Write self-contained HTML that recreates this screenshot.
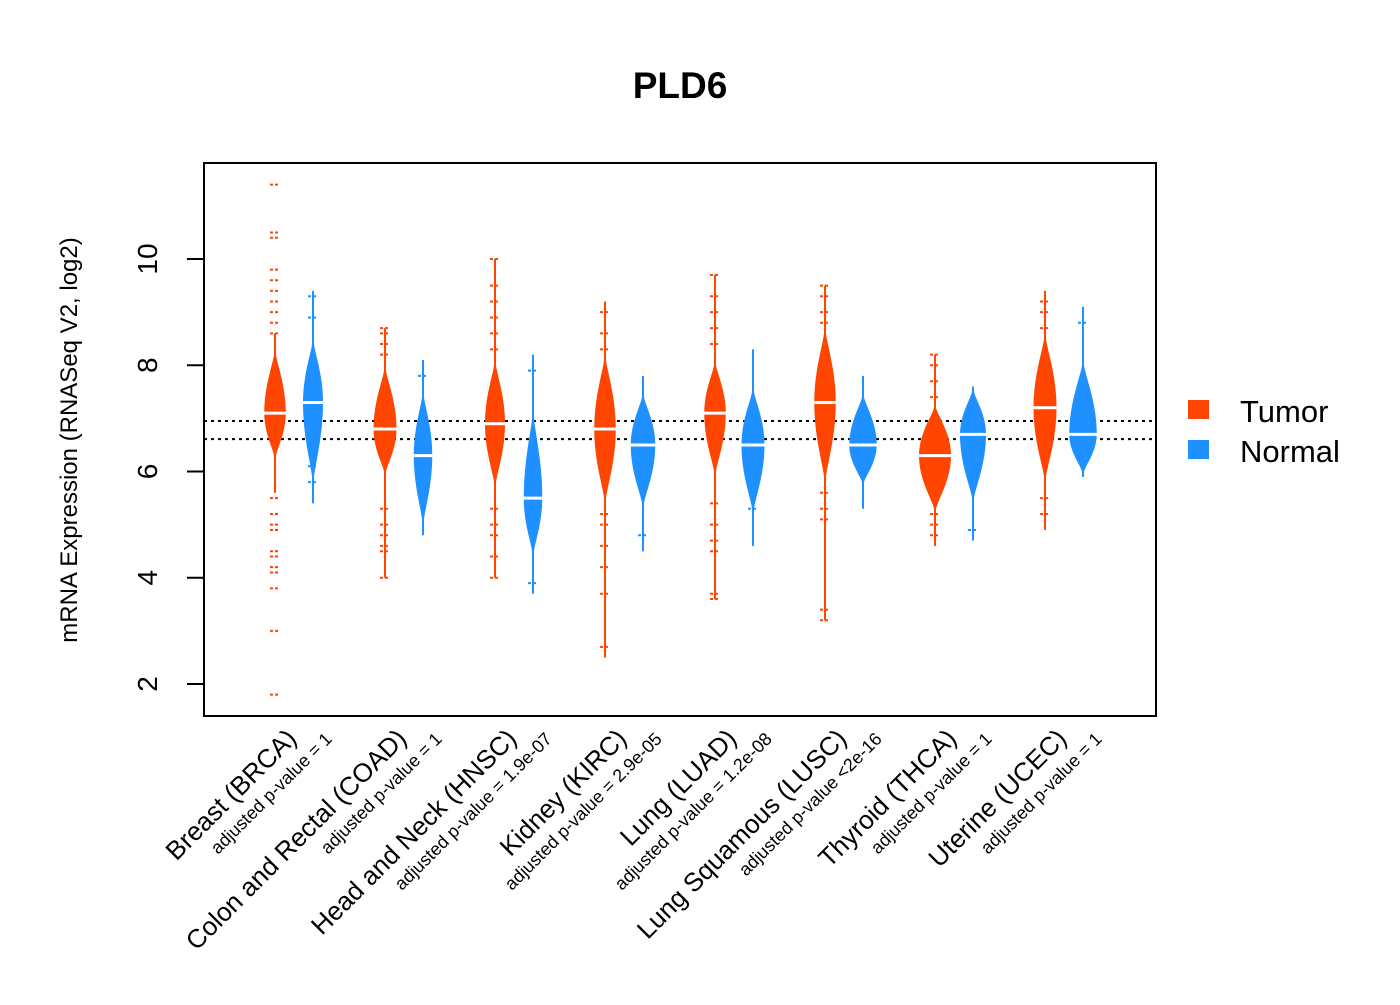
<!DOCTYPE html>
<html><head><meta charset="utf-8"><style>
html,body{margin:0;padding:0;background:#fff;}
svg text{font-family:"Liberation Sans",Arial,sans-serif;}
</style></head><body>
<svg id="chart" width="1400" height="1000" xmlns="http://www.w3.org/2000/svg">
<text x="680" y="98" font-size="37" font-weight="bold" text-anchor="middle">PLD6</text>
<g id="plot"></g>
<rect x="204" y="163" width="952" height="553" fill="none" stroke="#000" stroke-width="2"/>
<text transform="translate(77,440) rotate(-90)" font-size="24" text-anchor="middle">mRNA Expression (RNASeq V2, log2)</text>
<g>
<rect x="1188" y="400" width="21" height="19" fill="#FF4500"/>
<text x="1240" y="422" font-size="31">Tumor</text>
<rect x="1188" y="440" width="21" height="19" fill="#1E90FF"/>
<text x="1240" y="462" font-size="31">Normal</text>
</g>
</svg>
<script>
const categories=["Breast (BRCA)","Colon and Rectal (COAD)","Head and Neck (HNSC)","Kidney (KIRC)","Lung (LUAD)","Lung Squamous (LUSC)","Thyroid (THCA)","Uterine (UCEC)"];
const pvalues=["adjusted p-value = 1","adjusted p-value = 1","adjusted p-value = 1.9e-07","adjusted p-value = 2.9e-05","adjusted p-value = 1.2e-08","adjusted p-value <2e-16","adjusted p-value = 1","adjusted p-value = 1"];
const yTicks=[2,4,6,8,10];
const refLines=[6.95,6.61];
// tumor: whisker low/high, body low/high, median, relative width
const tumorLo=[5.6,4.0,4.0,2.5,3.6,3.2,4.6,4.9];
const tumorHi=[8.6,8.7,10.0,9.2,9.7,9.5,8.2,9.4];
const tumorBodyLo=[6.3,6.0,5.8,5.5,6.0,5.9,5.3,5.9];
const tumorBodyHi=[8.2,7.9,8.0,8.1,8.0,8.6,7.2,8.5];
const tumorMed=[7.1,6.8,6.9,6.8,7.1,7.3,6.3,7.2];
const tumorWidth=[0.65,0.7,0.6,0.65,0.65,0.65,1.0,0.7];
const normalLo=[5.4,4.8,3.7,4.5,4.6,5.3,4.7,5.9];
const normalHi=[9.4,8.1,8.2,7.8,8.3,7.8,7.6,9.1];
const normalBodyLo=[5.9,5.1,4.5,5.4,5.3,5.8,5.5,6.0];
const normalBodyHi=[8.4,7.4,7.0,7.4,7.5,7.4,7.5,8.0];
const normalMed=[7.3,6.3,5.5,6.5,6.5,6.5,6.7,6.7];
const normalWidth=[0.6,0.55,0.55,0.75,0.7,0.85,0.8,0.85];
const tumorOutliers=[
[1.8,3.0,3.8,4.1,4.2,4.4,4.5,4.9,5.0,5.2,5.5,8.6,8.8,9.0,9.2,9.4,9.6,9.8,10.4,10.5,11.4],
[4.0,4.5,4.6,4.8,5.0,5.3,8.2,8.4,8.6,8.7],
[4.0,4.4,4.8,5.0,5.3,8.3,8.6,8.9,9.2,9.5,10.0],
[2.7,3.7,4.2,4.6,5.0,5.2,8.3,8.6,9.0],
[3.6,3.7,4.5,4.7,5.0,5.4,8.4,8.7,9.0,9.3,9.7],
[3.2,3.4,5.1,5.3,5.6,8.8,9.0,9.3,9.5],
[4.8,5.0,5.2,7.4,7.7,8.0,8.2],
[5.2,5.5,8.7,9.0,9.2]];
const normalOutliers=[[5.8,6.1,8.9,9.3],[7.8],[3.9,7.9],[4.8],[5.3],[],[4.9],[8.8]];
const tumorX=[275,385,495,605,715,825,935,1045];
const NS="http://www.w3.org/2000/svg";
const plot=document.getElementById('plot');
const svg=document.getElementById('chart');
function yS(v){return 684-(v-2)*53.125;}
function mk(t,a){const e=document.createElementNS(NS,t);for(const k in a)e.setAttribute(k,a[k]);return e;}
yTicks.forEach(v=>{
 const t=mk('line',{x1:187,x2:204,y1:yS(v),y2:yS(v),stroke:'#000','stroke-width':2});
 
 
 svg.appendChild(t);
 const l=mk('text',{transform:`translate(157,${yS(v)}) rotate(-90)`,'font-size':28,'text-anchor':'middle'});
 
 
 l.textContent=v;svg.appendChild(l);
});
refLines.forEach(v=>{
 const l=mk('line',{x1:204,x2:1156,y1:yS(v),y2:yS(v),stroke:'#000','stroke-width':2,'stroke-dasharray':'3,4'});
 
 
 plot.appendChild(l);
});
function violin(cx,lo,hi,blo,bhi,med,w,out,col,name){
 const g=mk('g',{});
 
 
 const ln=mk('line',{x1:cx,x2:cx,y1:yS(lo),y2:yS(hi),stroke:col,'stroke-width':2});
 g.appendChild(ln);
 const maxw=15*w;const pts=[];const N=40;
 const prof=[];
 for(let i=0;i<=N;i++){const v=blo+(bhi-blo)*i/N;
  const t=v<med?(med-v)/(med-blo):(v-med)/(bhi-med);
  const hw=maxw*Math.pow(Math.max(0,1-t*t),1.3)+1;prof.push([v,hw]);}
 prof.forEach(p=>pts.push((cx+p[1])+','+yS(p[0])));
 prof.slice().reverse().forEach(p=>pts.push((cx-p[1])+','+yS(p[0])));
 const poly=mk('polygon',{points:pts.join(' '),fill:col});
 g.appendChild(poly);
 out.forEach(v=>{
  const o=mk('line',{x1:cx-5,x2:cx+5,y1:yS(v),y2:yS(v),stroke:col,'stroke-width':2,'stroke-dasharray':'3,2'});
  
  
  g.appendChild(o);
 });
 const m=mk('line',{x1:cx-maxw-2,x2:cx+maxw+2,y1:yS(med),y2:yS(med),stroke:'#fff','stroke-width':3});
 
 
 g.appendChild(m);
 plot.appendChild(g);
}
categories.forEach((c,i)=>{
 const tx=tumorX[i],nx=tx+38;
 violin(tx,tumorLo[i],tumorHi[i],tumorBodyLo[i],tumorBodyHi[i],tumorMed[i],tumorWidth[i],tumorOutliers[i],'#FF4500','tumor-violin');
 violin(nx,normalLo[i],normalHi[i],normalBodyLo[i],normalBodyHi[i],normalMed[i],normalWidth[i],normalOutliers[i],'#1E90FF','normal-violin');
 const t=mk('text',{transform:`translate(${tx+23},${740}) rotate(-45)`,'font-size':26,'text-anchor':'end'});
 
 
 t.textContent=c;svg.appendChild(t);
 const p=mk('text',{transform:`translate(${tx+58},${740}) rotate(-45)`,'font-size':18,'text-anchor':'end'});
 
 
 p.textContent=pvalues[i];svg.appendChild(p);
});
</script>
</body></html>
